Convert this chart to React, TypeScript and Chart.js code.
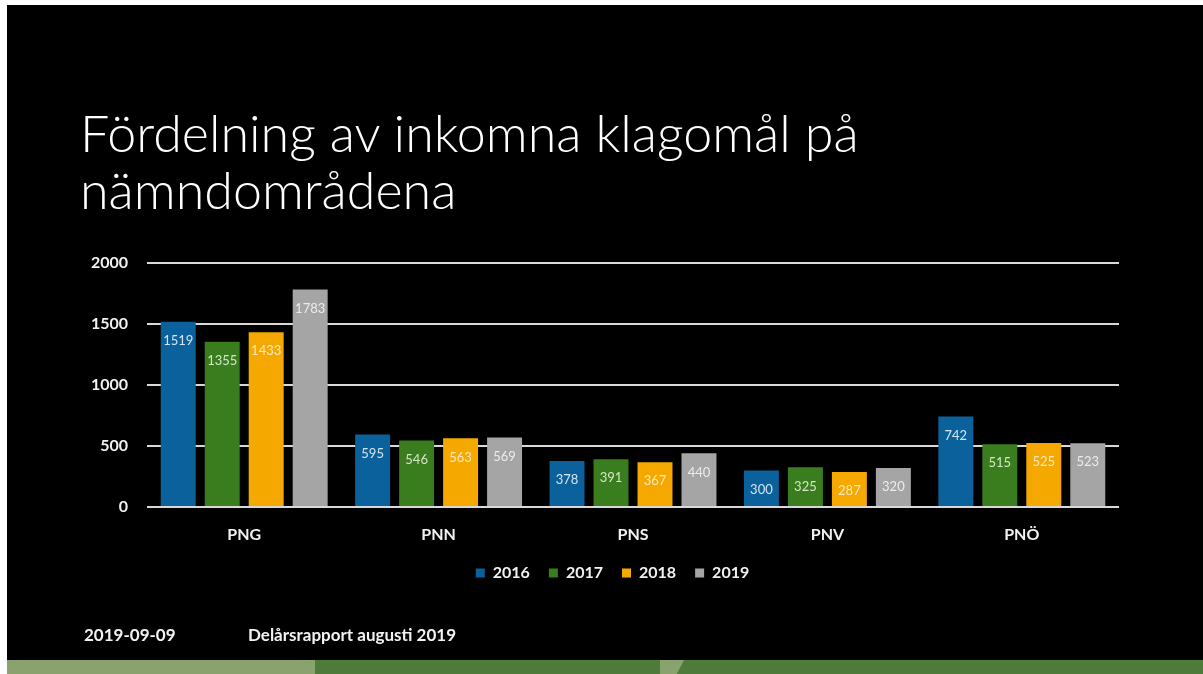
import React, { useEffect, useRef } from "react";
import { Chart, registerables } from "chart.js";

Chart.register(...registerables);

const categories = ["PNG", "PNN", "PNS", "PNV", "PNÖ"];
const seriesNames = ["2016", "2017", "2018", "2019"];
const values2016 = [1519, 595, 378, 300, 742];
const values2017 = [1355, 546, 391, 325, 515];
const values2018 = [1433, 563, 367, 287, 525];
const values2019 = [1783, 569, 440, 320, 523];
const yTicks = [0, 500, 1000, 1500, 2000];

const barColors = ["#0b619c", "#3a7d1f", "#f5a900", "#a5a5a5"];
const labelColors = ["#d6e4f0", "#d4e6c6", "#fde9c0", "#ececec"];

const FONT = "Lato, 'Open Sans', sans-serif";

const valueLabels = {
  id: "valueLabels",
  afterDatasetsDraw(chart: any) {
    const ctx = chart.ctx;
    ctx.save();
    ctx.font = `13px ${FONT}`;
    ctx.textAlign = "center";
    ctx.textBaseline = "middle";
    chart.data.datasets.forEach((ds: any, i: number) => {
      const meta = chart.getDatasetMeta(i);
      meta.data.forEach((bar: any, j: number) => {
        ctx.fillStyle = labelColors[i];
        ctx.fillText(String(ds.data[j]), bar.x, bar.y + 19);
      });
    });
    ctx.restore();
  },
};

// centre the legend on the slide like the original (not on the plot box)
const legendShift = {
  id: "legendShift",
  afterLayout(chart: any) {
    const lg = chart.legend;
    if (lg) {
      lg.left += 53;
      lg.right += 53;
    }
  },
};

export default function App() {
  const ref = useRef<HTMLCanvasElement | null>(null);
  useEffect(() => {
    const all = [values2016, values2017, values2018, values2019];
    const chart = new Chart(ref.current as HTMLCanvasElement, {
      type: "bar",
      data: {
        labels: categories,
        datasets: seriesNames.map((n, i) => ({
          label: n,
          data: all[i],
          backgroundColor: barColors[i],
          categoryPercentage: 0.905,
          barPercentage: 0.795,
        })),
      },
      options: {
        animation: false,
        responsive: false,
        maintainAspectRatio: false,
        layout: { padding: { left: 0, right: 84, top: 263, bottom: 83 } },
        scales: {
          y: {
            min: 0,
            max: 2000,
            afterBuildTicks: (scale: any) => {
              scale.ticks = yTicks.map((v) => ({ value: v }));
            },
            afterFit: (scale: any) => {
              scale.width = 147;
            },
            grid: { color: "#d9d9d9", lineWidth: 2, drawTicks: false },
            border: { display: false },
            ticks: {
              padding: 19,
              color: "#f2f2f2",
              font: { family: FONT, size: 16, weight: "bold" },
              callback: (v: any) => String(v),
            },
          },
          x: {
            grid: { display: false, drawTicks: false },
            border: { display: false },
            afterFit: (scale: any) => {
              scale.height = 39;
            },
            ticks: {
              padding: 18,
              color: "#f2f2f2",
              font: { family: FONT, size: 16, weight: "bold" },
            },
          },
        },
        plugins: {
          legend: {
            position: "bottom",
            labels: {
              boxWidth: 9,
              boxHeight: 9,
              padding: 19,
              color: "#f2f2f2",
              font: { family: FONT, size: 16, weight: "bold" },
            },
          },
          tooltip: { enabled: false },
        },
      },
      plugins: [valueLabels, legendShift],
    });
    return () => chart.destroy();
  }, []);

  const footStyle: React.CSSProperties = {
    position: "absolute",
    top: 624,
    color: "#f2f2f2",
    fontFamily: FONT,
    fontSize: 17,
    fontWeight: "bold",
    lineHeight: "22px",
    whiteSpace: "nowrap",
  };

  return (
    <div style={{ position: "fixed", left: 0, top: 0, width: 1203, height: 674, background: "#ffffff", overflow: "hidden" }}>
      <div style={{ position: "absolute", left: 7, top: 5, width: 1196, height: 655, background: "#000000" }} />
      <div style={{ position: "absolute", left: 7, top: 660, width: 308, height: 14, background: "#8aa36e" }} />
      <div style={{ position: "absolute", left: 315, top: 660, width: 888, height: 14, background: "#4e7a3a" }} />
      <div
        style={{
          position: "absolute",
          left: 660,
          top: 660,
          width: 24,
          height: 14,
          background: "#8aa36e",
          clipPath: "polygon(0 0, 100% 0, 70% 100%, 0 100%)",
        }}
      />
      <div
        style={{
          position: "absolute",
          left: 80,
          top: 104,
          color: "#ffffff",
          fontFamily: FONT,
          fontWeight: 300,
          fontSize: 52,
          lineHeight: "57px",
          whiteSpace: "nowrap",
        }}
      >
        Fördelning av inkomna klagomål på
        <br />
        nämndområdena
      </div>
      <canvas ref={ref} width={1203} height={674} style={{ position: "absolute", left: 0, top: 0 }} />
      <div style={{ ...footStyle, left: 84 }}>2019-09-09</div>
      <div style={{ ...footStyle, left: 248 }}>Delårsrapport augusti 2019</div>
    </div>
  );
}
